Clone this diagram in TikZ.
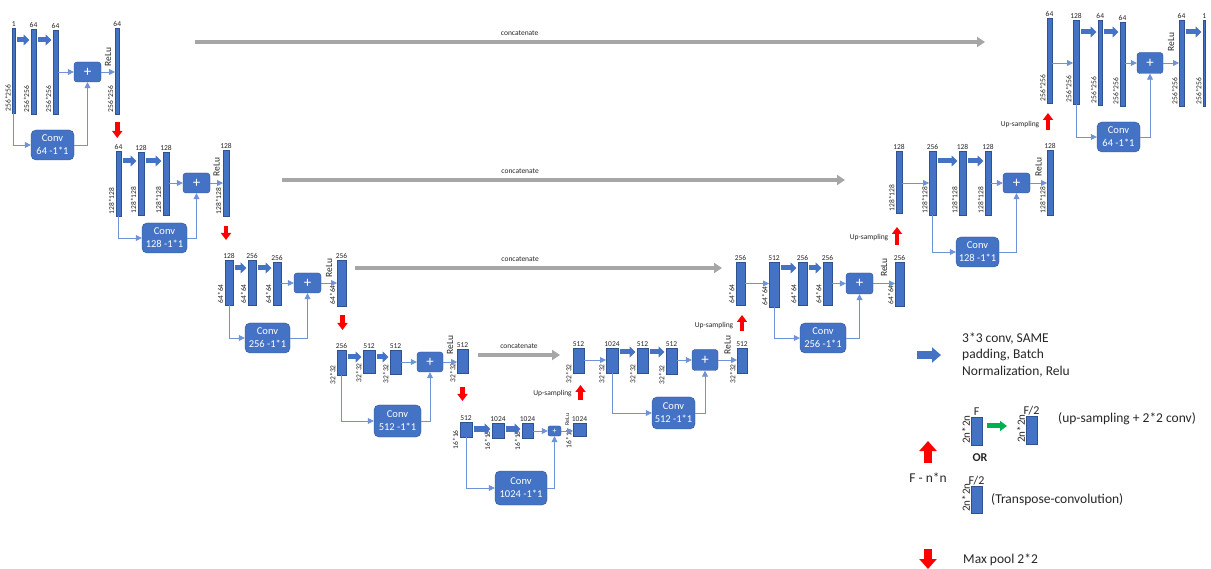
\documentclass[tikz,border=0pt]{standalone}
\usepackage{fontspec}
\setmainfont{Carlito}
\usetikzlibrary{arrows.meta,calc,positioning}
\definecolor{netblue}{HTML}{4472C4}
\definecolor{netedge}{HTML}{2F528F}
\definecolor{linkblue}{HTML}{7092D6}
\definecolor{concatgray}{HTML}{A6A6A6}
\definecolor{poolred}{HTML}{FF0000}
\definecolor{upgreen}{HTML}{00B050}
% feature map: [label drop]{name}{left}{top}{width}{height}{filters}{size}
\newcommand{\fmap}[8][0]{%
  \node[fmapbox, minimum width=#5pt, minimum height=#6pt] (#2) at (#3,#4) {};
  \node[cnt, above] at (#2.north) {#7};
  \node[dim] at ([yshift=-#1pt]#2.south west) {#8};
}
\begin{document}
\begin{tikzpicture}[x=1pt, y=-1pt,
  fmapbox/.style={anchor=north west, fill=netblue, draw=netedge, line width=0.4pt, inner sep=0pt, outer sep=0pt},
  cnt/.style={font=\fontsize{7.5}{8}\selectfont, text=black!85, inner sep=1pt},
  dim/.style={rotate=90, anchor=south west, font=\fontsize{7.5}{8}\selectfont, text=black!85, inner sep=1.5pt},
  plus/.style={fill=netblue, draw=netedge, rounded corners=3pt, text=white, inner sep=0pt, font=\fontsize{15}{15}\selectfont},
  conv/.style={fill=netblue, draw=netedge, rounded corners=5pt, text=white, align=center, inner sep=0pt, font=\fontsize{10.5}{13}\selectfont},
  relu/.style={rotate=90, anchor=west, font=\fontsize{9.5}{10}\selectfont, text=black!85, inner sep=0.5pt},
  link/.style={draw=linkblue, line width=0.8pt, -{Triangle[width=6pt,length=6pt]}},
  conv33/.style={draw=netblue, line width=5pt, -{Triangle[width=11pt,length=6pt]}, shorten <=1.5pt, shorten >=1.5pt},
  pool/.style={draw=poolred, line width=4.5pt, -{Triangle[width=10pt,length=7pt]}},
  concat/.style={draw=concatgray, line width=4pt, -{Triangle[width=10pt,length=8pt]}},
  cattext/.style={font=\fontsize{7.5}{8}\selectfont, text=black!85, inner sep=0.5pt},
  uptext/.style={font=\fontsize{7.5}{8}\selectfont, text=black!85, inner sep=0.5pt},
  legtext/.style={font=\fontsize{13.5}{16.5}\selectfont, text=black!85, inner sep=0pt},
  legsmall/.style={font=\fontsize{12}{13}\selectfont, text=black!85, inner sep=1pt},
  legdim/.style={rotate=90, anchor=south west, font=\fontsize{11}{12}\selectfont, text=black!85, inner sep=1pt}]
\useasboundingbox (0,0) rectangle (1211,569);

% encoder, level 1
\fmap{e11}{12.5}{28}{2.5}{85}{1}{256*256}
\fmap{e12}{31}{29}{5}{85}{64}{256*256}
\fmap{e13}{53}{30}{5}{84}{64}{256*256}
\fmap{e14}{115}{28}{4.5}{86}{64}{256*256}
\node[plus, minimum width=27pt, minimum height=20pt] (p1) at (87.5,72) {+};
\node[conv, minimum width=43pt, minimum height=30pt] (c1) at (52.5,145) {Conv\\64 -1*1};

% encoder, level 2
\fmap{e21}{116}{151}{5}{65}{64}{128*128}
\fmap{e22}{138}{152}{6}{63}{128}{128*128}
\fmap{e23}{163}{152}{6}{63}{128}{128*128}
\fmap{e24}{223}{150}{6}{66}{128}{128*128}
\node[plus, minimum width=27pt, minimum height=20pt] (p2) at (196.5,183) {+};
\node[conv, minimum width=45pt, minimum height=30pt] (c2) at (164.5,238) {Conv\\128 -1*1};

% encoder, level 3
\fmap{e31}{225}{260}{8}{45}{128}{64*64}
\fmap{e32}{248}{260}{8}{45}{256}{64*64}
\fmap{e33}{273}{262}{8}{43}{256}{64*64}
\fmap{e34}{337}{260}{9}{46}{256}{64*64}
\node[plus, minimum width=27pt, minimum height=20pt] (p3) at (307.5,283) {+};
\node[conv, minimum width=45pt, minimum height=30pt] (c3) at (267.5,338) {Conv\\256 -1*1};

% encoder, level 4
\fmap[11]{e41}{337}{350}{9}{25}{256}{32*32}
\fmap[11]{e42}{363}{350}{12}{23}{512}{32*32}
\fmap[11]{e43}{390}{350}{11}{24}{512}{32*32}
\fmap[11]{e44}{457}{349}{11}{24}{512}{32*32}
\node[plus, minimum width=26pt, minimum height=20pt] (p4) at (430,362) {+};
\node[conv, minimum width=47pt, minimum height=32pt] (c4) at (397.5,421) {Conv\\512 -1*1};

% bottleneck, level 5
\fmap[14]{e51}{460}{422}{12}{15}{512}{16*16}
\fmap[14]{e52}{492}{423}{12}{15}{1024}{16*16}
\fmap[14]{e53}{522}{423}{11}{15}{1024}{16*16}
\fmap[14]{e54}{573}{423}{13}{13}{1024}{16*16}
\node[plus, minimum width=13pt, minimum height=10pt, font=\fontsize{8}{8}\selectfont, rounded corners=2pt] (p5) at (554.5,431) {+};
\node[conv, minimum width=52pt, minimum height=34pt] (c5) at (521,488) {Conv\\1024 -1*1};

% decoder, level 4
\fmap[12]{d41}{573}{348}{11}{25}{512}{32*32}
\fmap[12]{d42}{606}{348}{12}{25}{1024}{32*32}
\fmap[12]{d43}{637}{348}{11}{25}{512}{32*32}
\fmap[12]{d44}{666}{348}{11}{26}{512}{32*32}
\fmap[12]{d45}{737}{348}{10}{25}{512}{32*32}
\node[plus, minimum width=26pt, minimum height=21pt] (pd4) at (705,360) {+};
\node[conv, minimum width=43pt, minimum height=32pt] (cd4) at (673.5,413) {Conv\\512 -1*1};

% decoder, level 3
\fmap{d31}{736}{262}{9}{43}{256}{64*64}
\fmap{d32}{769}{262}{10}{45}{512}{64*64}
\fmap{d33}{798}{262}{9}{43}{256}{64*64}
\fmap{d34}{823}{262}{9}{43}{256}{64*64}
\fmap{d35}{895}{262}{9}{44}{256}{64*64}
\node[plus, minimum width=27pt, minimum height=21pt] (pd3) at (859.5,283.5) {+};
\node[conv, minimum width=46pt, minimum height=30pt] (cd3) at (823,338) {Conv\\256 -1*1};

% decoder, level 2
\fmap{d21}{896}{151}{6}{62}{128}{128*128}
\fmap{d22}{929}{151}{7}{64}{256}{128*128}
\fmap{d23}{959}{151}{7}{64}{128}{128*128}
\fmap{d24}{985}{151}{6}{64}{128}{128*128}
\fmap{d25}{1047}{150}{6}{65}{128}{128*128}
\node[plus, minimum width=27pt, minimum height=20pt] (pd2) at (1016.5,183) {+};
\node[conv, minimum width=43pt, minimum height=30pt] (cd2) at (977.5,252) {Conv\\128 -1*1};

% decoder, level 1
\fmap{d11}{1047}{18}{5}{85}{64}{256*256}
\fmap{d12}{1073}{20}{6}{84}{128}{256*256}
\fmap{d13}{1098}{20}{4.5}{85}{64}{256*256}
\fmap{d14}{1120}{22}{5}{84}{64}{256*256}
\fmap{d15}{1179}{20}{5}{86}{64}{256*256}
\fmap{d16}{1203}{20}{2.5}{86}{1}{256*256}
\node[plus, minimum width=26pt, minimum height=21pt] (pd1) at (1150,63) {+};
\node[conv, minimum width=43pt, minimum height=30pt] (cd1) at (1118.5,137) {Conv\\64 -1*1};

% 3*3 conv arrows
\foreach \a/\b/\y in {e11/e12/40, e12/e13/40, e21/e22/161, e22/e23/161,
    e31/e32/268, e32/e33/268, e41/e42/357, e42/e43/357, e51/e52/429, e52/e53/429,
    d42/d43/352, d43/d44/352, d32/d33/268, d33/d34/268, d22/d23/161, d23/d24/161,
    d12/d13/32, d13/d14/32, d15/d16/32}
  \draw[conv33] (\a.east |- 0,\y) -- (\b.west |- 0,\y);

% residual links
\foreach \i in {1,...,5}{
  \draw[link] (e\i3.east |- p\i) -- (p\i.west);
  \draw[link] (p\i.east) -- (e\i4.west |- p\i);
  \draw[link] (e\i1.south) |- (c\i.west);
  \draw[link] (c\i.east) -| (p\i.south);
}
\foreach \i in {1,...,4}{
  \draw[link] (d\i1.east |- pd\i) -- (d\i2.west |- pd\i);
  \draw[link] (d\i4.east |- pd\i) -- (pd\i.west);
  \draw[link] (pd\i.east) -- (d\i5.west |- pd\i);
  \draw[link] (d\i2.south) |- (cd\i.west);
  \draw[link] (cd\i.east) -| (pd\i.south);
}

% ReLu labels
\foreach \i/\s in {1/5,2/6,3/5,4/7}
  \node[relu] at ([yshift=\s pt]$(p\i.east)!0.5!(e\i4.west |- p\i)$) {ReLu};
\node[relu, font=\fontsize{6}{6}\selectfont] at ([yshift=5pt]$(p5.east)!0.5!(e54.west |- p5)$) {ReLu};
\foreach \i/\s in {1/11,2/6,3/6,4/5}
  \node[relu] at ([yshift=\s pt]$(pd\i.east)!0.5!(d\i5.west |- pd\i)$) {ReLu};

% max pooling
\draw[pool] ([yshift=-8pt]e14.south) -- ++(0,16);
\draw[pool] ([yshift=-10pt]e24.south) -- ++(0,14);
\draw[pool] ([xshift=1pt,yshift=-9pt]e34.south) -- ++(0,15);
\draw[pool] ([yshift=-14pt]e44.south) -- ++(0,14);

% up-sampling
\draw[pool] ([xshift=2pt,yshift=-27pt]d41.south) -- ++(0,-15) node[pos=0.4, left=6pt, uptext] {Up-sampling};
\draw[pool] ([xshift=1.5pt,yshift=-26pt]d31.south) -- ++(0,-16) node[pos=0.37, left=6pt, uptext] {Up-sampling};
\draw[pool] ([xshift=-2pt,yshift=-32pt]d21.south) -- ++(0,-18) node[pos=0.39, left=6pt, uptext] {Up-sampling};
\draw[pool] ([xshift=-1.5pt,yshift=-27pt]d11.south) -- ++(0,-17) node[pos=0.3, left=6pt, uptext] {Up-sampling};

% skip connections
\coordinate (ka1) at (195,42);  \coordinate (kb1) at (985,42);
\coordinate (ka2) at (282,180); \coordinate (kb2) at (845,180);
\coordinate (ka3) at (355,268); \coordinate (kb3) at (722,268);
\coordinate (ka4) at (478,355); \coordinate (kb4) at (560,355);
\foreach \i/\p in {1/0.411, 2/0.423, 3/0.45, 4/0.5}
  \draw[concat] (ka\i) -- (kb\i) node[pos=\p, above=3.5pt, cattext] {concatenate};

% legend
\draw[draw=netblue, line width=8pt, -{Triangle[width=15pt,length=9pt]}] (917,355) -- (941,355);
\node[legtext, anchor=west, align=left] (lgconv) at (962,355) {3*3 conv, SAME\\padding, Batch\\Normalization, Relu};
\node[fmapbox, minimum width=11pt, minimum height=28pt] (lf) at (971,417) {};
\node[legsmall, above] at (lf.north) {F};
\node[legdim] at (lf.south west) {2n*2n};
\node[fmapbox, minimum width=11pt, minimum height=28pt] (lf2) at (1026,416) {};
\node[legsmall, above] at (lf2.north) {F/2};
\node[legdim] at (lf2.south west) {2n*2n};
\draw[draw=upgreen, line width=5pt, -{Triangle[width=10pt,length=7pt]}, shorten <=5pt, shorten >=19pt] (lf.east |- 0,426) -- (lf2.west |- 0,426);
\node[legtext, anchor=west] (lgup) at (1058,419) {(up-sampling + 2*2 conv)};
\node[legsmall, font=\fontsize{12}{13}\bfseries] (lgor) at (980,458) {OR};
\node[fmapbox, minimum width=11pt, minimum height=27pt] (lt) at (971,486) {};
\node[legsmall, above] at (lt.north) {F/2};
\node[legdim] at (lt.south west) {2n*2n};
\node[legtext, anchor=west] (lgtr) at (991,500) {(Transpose-convolution)};
\draw[draw=poolred, line width=8pt, -{Triangle[width=17pt,length=10pt]}] (928,463) -- (928,441);
\node[legtext] (lgfn) at (928,478) {F - n*n};
\draw[draw=poolred, line width=8pt, -{Triangle[width=17pt,length=10pt]}] (928,549) -- (928,569);
\node[legtext, anchor=west] (lgpool) at (963,560) {Max pool 2*2};
\end{tikzpicture}
\end{document}
